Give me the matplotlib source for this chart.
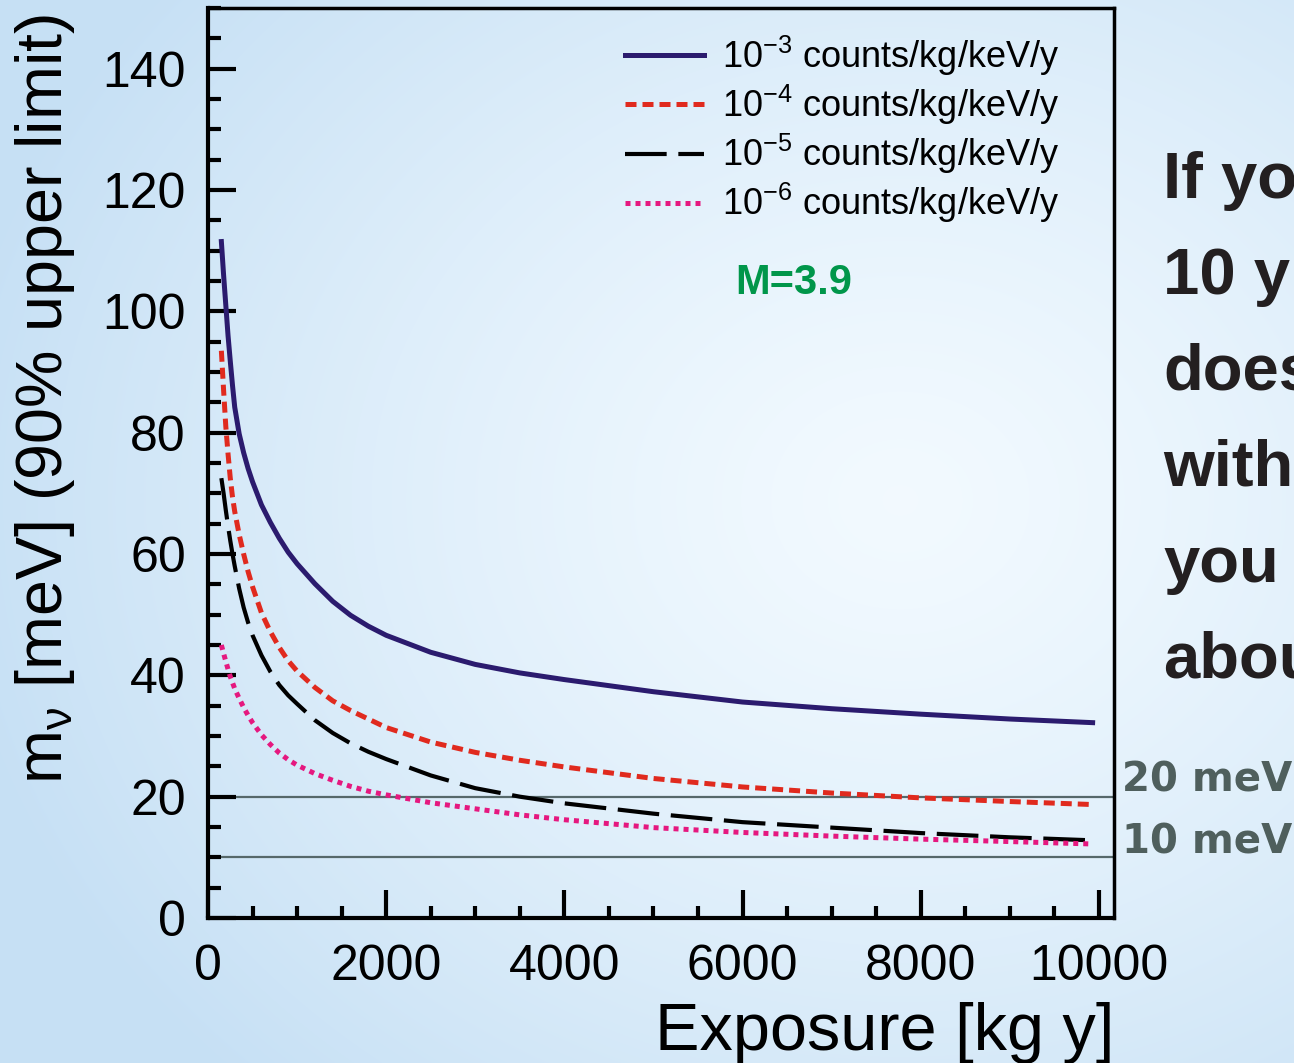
import numpy as np
import matplotlib
matplotlib.use('Agg')
import matplotlib.pyplot as plt
from matplotlib.ticker import MultipleLocator

plt.rcParams['font.family'] = ['Liberation Sans', 'DejaVu Sans']
plt.rcParams['mathtext.fontset'] = 'custom'
plt.rcParams['mathtext.rm'] = 'Liberation Sans'
plt.rcParams['mathtext.it'] = 'Liberation Sans:italic'
plt.rcParams['mathtext.default'] = 'regular'

# Exposure grid [kg y] and upper limits [meV]
exposure = [150, 175, 200, 225, 250, 275, 300, 350, 400, 450, 500, 600, 700, 800, 900,
            1000, 1200, 1400, 1600, 1800, 2000, 2500, 3000, 3500, 4000, 5000, 6000,
            7000, 8000, 9000, 9930]
bkg_1e3 = [111.5, 106.0, 101.0, 96.0, 91.8, 87.8, 84.2, 79.8, 76.7, 74.1, 71.9, 68.1,
           65.2, 62.6, 60.3, 58.4, 55.1, 52.2, 49.9, 48.1, 46.6, 43.8, 41.8, 40.4,
           39.3, 37.3, 35.6, 34.5, 33.6, 32.8, 32.2]
bkg_1e4 = [93.5, 87.0, 81.0, 76.5, 72.5, 69.4, 67.0, 63.2, 60.0, 57.1, 54.6, 50.3,
           47.2, 44.6, 42.4, 40.7, 38.0, 35.8, 34.2, 32.8, 31.4, 29.0, 27.3, 26.0,
           24.9, 23.0, 21.6, 20.6, 19.8, 19.2, 18.7]
bkg_1e5 = [72.5, 70.0, 67.2, 64.6, 62.2, 60.0, 58.0, 54.3, 51.2, 48.7, 46.6, 43.3,
           40.6, 38.4, 36.7, 35.3, 32.6, 30.5, 28.8, 27.4, 26.2, 23.5, 21.4, 20.0,
           18.9, 17.2, 15.8, 14.9, 14.0, 13.3, 12.8]
bkg_1e6 = [45.0, 43.6, 42.3, 41.0, 39.8, 38.8, 37.8, 36.2, 34.7, 33.4, 32.2, 30.2,
           28.6, 27.2, 26.1, 25.2, 23.8, 22.7, 21.7, 20.9, 20.3, 19.0, 18.0, 17.0,
           16.2, 14.9, 14.1, 13.5, 13.0, 12.6, 12.2]
labels = [r'10$^{-3}$ counts/kg/keV/y', r'10$^{-4}$ counts/kg/keV/y',
          r'10$^{-5}$ counts/kg/keV/y', r'10$^{-6}$ counts/kg/keV/y']
ref_levels = [20, 10]
ref_labels = ['20 meV', '10 meV']
side_text = ['If yo', '10 y', 'does', 'with', 'you', 'abou']

W, H = 1294, 1063
fig = plt.figure(figsize=(W / 100, H / 100), dpi=100)

# slide background: soft radial blue gradient
bg = fig.add_axes([0, 0, 1, 1], zorder=-10)
bg.axis('off')
yy, xx = np.mgrid[0:H, 0:W]
d = np.sqrt(((xx - 900) / 950.0) ** 2 + ((yy - 500) / 800.0) ** 2)
t = np.clip(d, 0, 1) ** 1.3
inner = np.array([0.95, 0.98, 1.0])
outer = np.array([0.78, 0.88, 0.96])
img = inner[None, None, :] + (outer - inner)[None, None, :] * t[:, :, None]
bg.imshow(img, aspect='auto', extent=[0, 1, 0, 1])
bg.set_xlim(0, 1)
bg.set_ylim(0, 1)

ax = fig.add_axes([208 / W, (H - 918) / H, (1114 - 208) / W, (918 - 8) / H])
ax.set_facecolor('none')

ax.plot(exposure, bkg_1e3, color='#2b1b6e', lw=3.6, label=labels[0])
ax.plot(exposure, bkg_1e4, color='#e02a1e', lw=3.6, dashes=(2.2, 1.2), label=labels[1])
ax.plot(exposure, bkg_1e5, color='black', lw=3.0, dashes=(10, 2.8), label=labels[2])
ax.plot(exposure, bkg_1e6, color='#e5187f', lw=3.6, dashes=(1, 1), label=labels[3])

for lev in ref_levels:
    ax.axhline(lev, color='#56686a', lw=1.6, zorder=1)

ax.set_xlim(0, 10170)
ax.set_ylim(0, 150)
ax.set_xticks(range(0, 10001, 2000))
ax.set_yticks(range(0, 141, 20))
ax.xaxis.set_minor_locator(MultipleLocator(500))
ax.yaxis.set_minor_locator(MultipleLocator(5))
ax.tick_params(which='both', direction='in', top=False, right=False, width=3)
ax.tick_params(which='major', length=20, labelsize=36)
ax.tick_params(axis='x', which='major', pad=19)
ax.tick_params(axis='y', which='major', pad=16)
ax.tick_params(which='minor', length=9)
for s in ['left', 'bottom']:
    ax.spines[s].set_linewidth(3)
for s in ['top', 'right']:
    ax.spines[s].set_linewidth(2.5)

ax.set_xlabel('Exposure [kg y]', loc='right', fontsize=48)
ax.xaxis.set_label_coords(1.0, -0.092)
ax.set_ylabel(r'm$_{\nu}$ [meV] (90% upper limit)', loc='top', fontsize=46.5)
ax.yaxis.set_label_coords(-0.145, 0.993)

ax.legend(loc='upper left', bbox_to_anchor=(0.46, 0.972), frameon=False, fontsize=26,
          handlelength=2.2, handletextpad=0.5, labelspacing=0.14,
          borderpad=0, borderaxespad=0)

fig.text(794 / W, 1 - 283 / H, 'M=3.9', ha='center', va='center', fontsize=30,
         fontweight='bold', color='#00964a')

for lev, lab in zip([780, 842], ref_labels):
    fig.text(1122 / W, 1 - lev / H, lab, ha='left', va='center', fontsize=29,
             fontweight='bold', color='#4f5f5d', family='DejaVu Sans')

for i, line in enumerate(side_text):
    fig.text(1163 / W, 1 - (198 + 96 * i) / H, line, ha='left', va='baseline',
             fontsize=47, fontweight='bold', color='#231f20')

fig.savefig('out.png', dpi=100)
